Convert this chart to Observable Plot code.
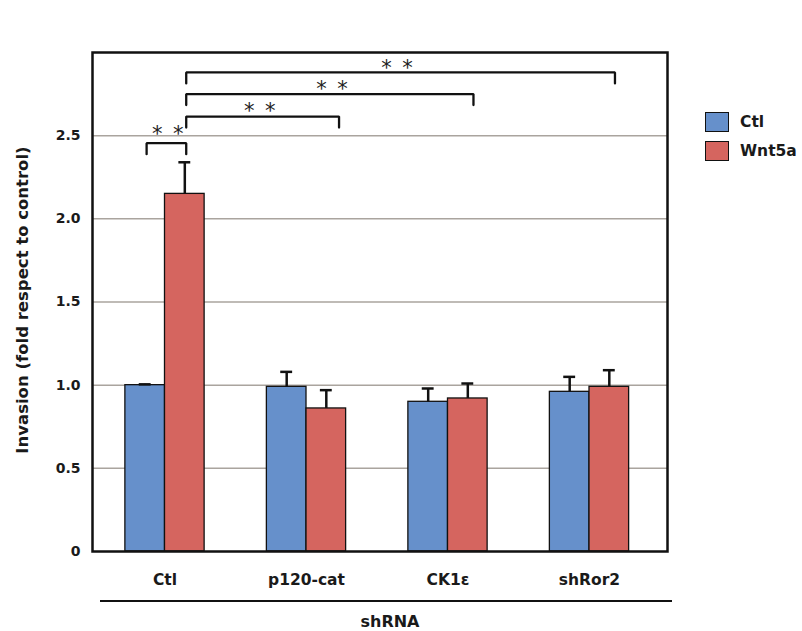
<!DOCTYPE html>
<html>
<head>
<meta charset="utf-8">
<script src="https://cdn.jsdelivr.net/npm/d3@7"></script>
<script src="https://cdn.jsdelivr.net/npm/@observablehq/plot@0.6"></script>
<style>
  html, body { margin: 0; padding: 0; background: #fff; }
  #wrap { position: relative; width: 802px; height: 631px; font-family: "DejaVu Sans", sans-serif; font-weight: bold; color: #1a1a1a; }
  #chart { position: absolute; left: 0; top: 0; }
  .ytitle { position: absolute; left: 22px; top: 300px; transform: translate(-50%, -50%) rotate(-90deg); white-space: nowrap; font-size: 16.5px; }
  .legend { position: absolute; left: 705px; top: 107px; font-size: 15.5px; }
  .legend .row { display: flex; align-items: center; height: 29px; }
  .legend .sw { width: 22px; height: 18px; border: 1.5px solid #111; margin-right: 11px; }
  .group { position: absolute; left: 100px; top: 600px; width: 572px; border-top: 2.5px solid #111; }
  .group span { position: absolute; left: 290px; top: 10px; transform: translateX(-50%); font-size: 16px; }
</style>
</head>
<body>
<div id="wrap">
  <div id="chart"></div>
  <div class="ytitle">Invasion (fold respect to control)</div>
  <div class="legend" id="legend"></div>
  <div class="group"><span>shRNA</span></div>
</div>
<script>
// shRNA knockdowns along the x axis, two treatments per knockdown
const categories = ["Ctl", "p120-cat", "CK1ε", "shRor2"];
const series = ["Ctl", "Wnt5a"];
const seriesColors = ["#6690cb", "#d5655f"];

// Mean invasion (fold vs control) and error (upper whisker length)
const ctlMean = [1.00, 0.99, 0.90, 0.96];
const ctlErr  = [0.005, 0.09, 0.08, 0.09];
const wntMean = [2.15, 0.86, 0.92, 0.99];
const wntErr  = [0.19, 0.11, 0.09, 0.10];

const yTicks = [0, 0.5, 1, 1.5, 2, 2.5];

// Significance brackets (x in category units, y in fold units)
const sigFrom  = [-0.13, 0.15, 0.15, 0.15];
const sigTo    = [0.15, 1.23, 2.18, 3.18];
const sigLevel = [2.455, 2.615, 2.75, 2.88];
const sigTextX = [0.02, 0.67, 1.18, 1.64];
const sigTextY = [2.54, 2.675, 2.81, 2.935];
const sigText  = ["**", "**", "**", "**"];

// Layout constants
const BAR = 0.28;   // bar width in category units
const CAP = 0.042;  // half-width of whisker caps
const LEG = 0.066;  // bracket leg length

const rows = categories.flatMap((c, i) => [
  {i, category: c, series: series[0], mean: ctlMean[i], err: ctlErr[i]},
  {i, category: c, series: series[1], mean: wntMean[i], err: wntErr[i]}
]);
const left = d => d.series === series[0];
const center = d => left(d) ? d.i - BAR / 2 : d.i + BAR / 2;

const bracketPts = sigFrom.flatMap((a, k) => [
  {k, x: a, y: sigLevel[k] - LEG},
  {k, x: a, y: sigLevel[k]},
  {k, x: sigTo[k], y: sigLevel[k]},
  {k, x: sigTo[k], y: sigLevel[k] - LEG}
]);
const stars = sigText.map((t, k) => ({x: sigTextX[k], y: sigTextY[k], t: t.split("").join("\u2002")}));

const chart = Plot.plot({
  width: 802,
  height: 592,
  marginTop: 52,
  marginBottom: 41,
  marginLeft: 92,
  marginRight: 135,
  style: {fontFamily: "DejaVu Sans, sans-serif", fontWeight: "bold", color: "#1a1a1a", background: "white"},
  x: {domain: [-0.5, 3.5], range: [93.75, 659.75]},
  y: {domain: [0, 3]},
  color: {domain: series, range: seriesColors},
  marks: [
    Plot.ruleY(yTicks.filter(d => d > 0), {stroke: "#aaa49e", strokeWidth: 1.5}),
    Plot.rectY(rows, {
      x1: d => left(d) ? d.i - BAR : d.i,
      x2: d => left(d) ? d.i : d.i + BAR,
      y1: 0, y2: "mean",
      fill: "series", stroke: "#111", strokeWidth: 1.3
    }),
    Plot.ruleX(rows, {x: center, y1: "mean", y2: d => d.mean + d.err, stroke: "#111", strokeWidth: 2.5}),
    Plot.ruleY(rows, {y: d => d.mean + d.err, x1: d => center(d) - CAP, x2: d => center(d) + CAP, stroke: "#111", strokeWidth: 2.5}),
    Plot.line(bracketPts, {x: "x", y: "y", z: "k", stroke: "#111", strokeWidth: 2.3, strokeLinejoin: "miter"}),
    Plot.text(stars, {x: "x", y: "y", text: "t", fontSize: 21, fontWeight: "normal", dy: 5, fill: "#222"}),
    Plot.axisY({ticks: yTicks, tickFormat: d => d === 0 ? "0" : d.toFixed(1), tickSize: 0, tickPadding: 12, fontSize: 14, label: null}),
    Plot.axisX({ticks: [0, 1, 2, 3], tickFormat: i => categories[i], tickSize: 0, tickPadding: 22, fontSize: 15.5, label: null}),
    Plot.frame({stroke: "#111", strokeWidth: 2.5})
  ]
});
document.getElementById("chart").append(chart);

// Treatment legend
const legend = document.getElementById("legend");
series.forEach((s, k) => {
  const row = document.createElement("div");
  row.className = "row";
  const sw = document.createElement("div");
  sw.className = "sw";
  sw.style.background = seriesColors[k];
  const label = document.createElement("span");
  label.textContent = s;
  row.append(sw, label);
  legend.append(row);
});
</script>
</body>
</html>
